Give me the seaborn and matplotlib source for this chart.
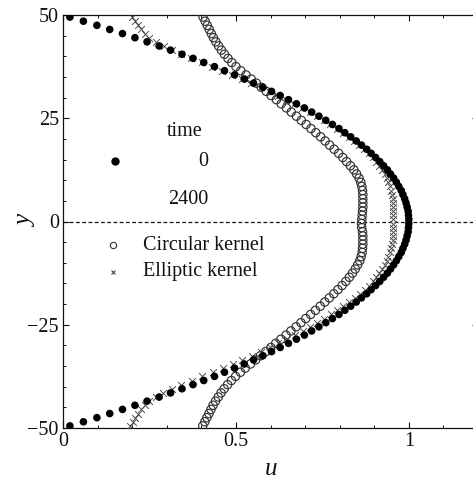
import numpy as np
import matplotlib
matplotlib.use("Agg")
import matplotlib.pyplot as plt
import seaborn as sns
from matplotlib.ticker import MultipleLocator, FixedLocator

# Cross-channel positions (cell centres), top to bottom
y_pos = np.arange(49.5, -50.0, -1.0)

# Initial profile (time = 0)
u_time0 = [
    0.020, 0.059, 0.098, 0.135, 0.172, 0.208, 0.243, 0.278, 0.311, 0.344,
    0.376, 0.407, 0.438, 0.467, 0.496, 0.524, 0.551, 0.578, 0.603, 0.628,
    0.652, 0.675, 0.698, 0.719, 0.740, 0.760, 0.779, 0.798, 0.815, 0.832,
    0.848, 0.863, 0.878, 0.891, 0.904, 0.916, 0.927, 0.938, 0.947, 0.956,
    0.964, 0.971, 0.978, 0.983, 0.988, 0.992, 0.995, 0.998, 0.999, 1.000,
    1.000, 0.999, 0.998, 0.995, 0.992, 0.988, 0.983, 0.978, 0.971, 0.964,
    0.956, 0.947, 0.938, 0.927, 0.916, 0.904, 0.891, 0.878, 0.863, 0.848,
    0.832, 0.815, 0.798, 0.779, 0.760, 0.740, 0.719, 0.698, 0.675, 0.652,
    0.628, 0.603, 0.578, 0.551, 0.524, 0.496, 0.467, 0.438, 0.407, 0.376,
    0.344, 0.311, 0.278, 0.243, 0.208, 0.172, 0.135, 0.098, 0.059, 0.020,
]

# Profile at time = 2400, circular kernel
u_circular = [
    0.405, 0.411, 0.417, 0.423, 0.429, 0.435, 0.442, 0.450, 0.458, 0.467,
    0.477, 0.488, 0.500, 0.514, 0.529, 0.544, 0.559, 0.573, 0.588, 0.602,
    0.617, 0.631, 0.646, 0.660, 0.675, 0.689, 0.703, 0.717, 0.731, 0.745,
    0.758, 0.771, 0.784, 0.797, 0.809, 0.820, 0.831, 0.841, 0.849, 0.856,
    0.861, 0.864, 0.866, 0.867, 0.867, 0.867, 0.867, 0.866, 0.865, 0.864,
    0.863, 0.864, 0.866, 0.867, 0.867, 0.867, 0.866, 0.865, 0.862, 0.858,
    0.852, 0.845, 0.837, 0.828, 0.818, 0.807, 0.795, 0.783, 0.770, 0.757,
    0.744, 0.730, 0.716, 0.702, 0.688, 0.674, 0.659, 0.645, 0.630, 0.615,
    0.601, 0.586, 0.571, 0.557, 0.542, 0.527, 0.513, 0.499, 0.487, 0.476,
    0.466, 0.457, 0.449, 0.441, 0.434, 0.428, 0.422, 0.416, 0.410, 0.404,
]

# Profile at time = 2400, elliptic kernel
u_elliptic = [
    0.200, 0.208, 0.216, 0.225, 0.236, 0.250, 0.270, 0.292, 0.315, 0.342,
    0.371, 0.402, 0.432, 0.461, 0.490, 0.518, 0.545, 0.572, 0.597, 0.622,
    0.646, 0.669, 0.692, 0.713, 0.734, 0.754, 0.773, 0.792, 0.809, 0.826,
    0.842, 0.857, 0.871, 0.884, 0.896, 0.906, 0.915, 0.923, 0.930, 0.936,
    0.941, 0.945, 0.948, 0.951, 0.953, 0.954, 0.955, 0.955, 0.955, 0.955,
    0.955, 0.955, 0.955, 0.954, 0.953, 0.951, 0.948, 0.945, 0.941, 0.936,
    0.930, 0.923, 0.915, 0.906, 0.896, 0.885, 0.872, 0.858, 0.843, 0.827,
    0.810, 0.793, 0.774, 0.755, 0.735, 0.714, 0.693, 0.670, 0.647, 0.623,
    0.598, 0.573, 0.546, 0.519, 0.491, 0.462, 0.433, 0.403, 0.372, 0.342,
    0.314, 0.290, 0.268, 0.250, 0.236, 0.225, 0.216, 0.208, 0.201, 0.195,
]

x_ticks = [0, 0.5, 1]
x_ticklabels = ["0", "0.5", "1"]
y_ticks = [-50, -25, 0, 25, 50]
y_ticklabels = ["\u221250", "\u221225", "0", "25", "50"]

sns.set_theme(style="ticks")
plt.rcParams["font.family"] = ["Liberation Serif", "DejaVu Serif"]

W, H = 473, 479
fig = plt.figure(figsize=(W / 100, H / 100), dpi=100)
ax = fig.add_axes([63 / W, 1 - 428 / H, 415 / W, 413 / H])

ink = "#111111"

sns.scatterplot(x=u_circular, y=y_pos, marker="o", s=36,
                facecolor="none", edgecolor="#333333", linewidth=0.85,
                ax=ax, zorder=3)
sns.scatterplot(x=u_elliptic, y=y_pos, marker="x", s=24,
                color="#444444", linewidth=0.65, ax=ax, zorder=4)
sns.scatterplot(x=u_time0, y=y_pos, marker="o", s=30,
                color="black", edgecolor="none", ax=ax, zorder=5)

ax.axhline(0, color=ink, lw=0.9, ls=(0, (3.0, 2.0)), zorder=2)

ax.set_xlim(0, 1.2)
ax.set_ylim(-50, 50)

ax.xaxis.set_major_locator(FixedLocator(x_ticks))
ax.set_xticklabels(x_ticklabels)
ax.xaxis.set_minor_locator(MultipleLocator(0.1))
ax.yaxis.set_major_locator(FixedLocator(y_ticks))
ax.set_yticklabels(y_ticklabels)
ax.yaxis.set_minor_locator(MultipleLocator(5))

ax.tick_params(which="both", direction="in", top=True, right=True,
               colors=ink, labelsize=14.5)
ax.tick_params(which="major", length=4.5, width=0.8)
ax.tick_params(which="minor", length=2.3, width=0.7)
ax.tick_params(axis="x", pad=3)
ax.tick_params(axis="y", pad=3)

for sp in ax.spines.values():
    sp.set_color(ink)
    sp.set_linewidth(0.9)

ax.set_xlabel("u", fontstyle="italic", fontsize=18, color=ink, labelpad=5)
ax.set_ylabel("y", fontstyle="italic", fontsize=18, color=ink, labelpad=-7)

# Key drawn inside the axes
tr = ax.transAxes
fs = 14.5
ax.text(0.294, 0.717, "time", transform=tr, ha="center", va="center",
        fontsize=fs, color=ink)
ax.plot([0.125], [0.646], marker="o", ms=5, color="black", ls="none",
        transform=tr)
ax.text(0.351, 0.646, "0", transform=tr, ha="right", va="center",
        fontsize=fs, color=ink)
ax.text(0.351, 0.554, "2400", transform=tr, ha="right", va="center",
        fontsize=fs, color=ink)
ax.plot([0.120], [0.443], marker="o", ms=4.5, mfc="none", mec="#333333",
        mew=0.8, ls="none", transform=tr)
ax.text(0.193, 0.443, "Circular kernel", transform=tr, ha="left",
        va="center", fontsize=fs, color=ink)
ax.plot([0.120], [0.378], marker="x", ms=3.5, color="#444444", mew=0.8,
        ls="none", transform=tr)
ax.text(0.193, 0.378, "Elliptic kernel", transform=tr, ha="left",
        va="center", fontsize=fs, color=ink)

fig.savefig("out.png", dpi=100)
